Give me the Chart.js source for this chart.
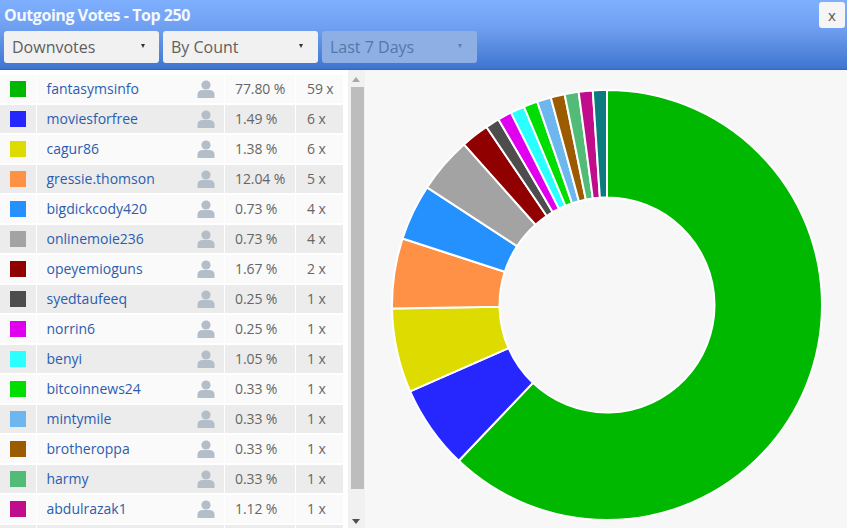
<!DOCTYPE html>
<html>
<head>
<meta charset="utf-8">
<title>Outgoing Votes</title>
<script src="https://cdn.jsdelivr.net/npm/chart.js@4"></script>
<style>
  html, body { margin: 0; padding: 0; }
  body { width: 847px; height: 528px; overflow: hidden; position: relative; background: #f7f7f7;
         font-family: "Open Sans", sans-serif; color: #666; }
  #head { position: absolute; left: 0; top: 0; width: 847px; height: 70px;
          background: linear-gradient(#7fafff 0%, #6f9ff0 40%, #3f76d0 97%, #2f66c0 100%); }
  #title { position: absolute; left: 4px; top: 5px; font-size: 16px; font-weight: 700; color: #f4f8ff; line-height: 20px; letter-spacing: -0.45px; }
  .sel { position: absolute; top: 31px; height: 32px; border-radius: 3px; background: #f1f1f1; color: #5f5f5f;
         font-size: 16px; line-height: 32px; box-sizing: border-box; padding-left: 8px; }
  .sel i { position: absolute; top: 13px; width: 0; height: 0; border-left: 2.5px solid transparent;
           border-right: 2.5px solid transparent; border-top: 4px solid #333; }
  .sel.off { background: #8dafe3; color: #5577aa; }
  .sel.off i { border-top-color: #5d7fb4; }
  #close { position: absolute; left: 819px; top: 2px; width: 26px; height: 26px; background: #f5f5f5; border-radius: 3px;
           text-align: center; font-size: 15px; line-height: 26px; color: #555; }
  #rows { position: absolute; left: 0; top: 70px; width: 348px; height: 458px; background: #fff; overflow: hidden; }
  .row { position: absolute; left: 0; width: 343px; height: 28px; font-size: 14px; line-height: 28px; letter-spacing: -0.1px; }
  .cell { position: absolute; top: 0; height: 28px; background: #fafafa; white-space: nowrap; box-sizing: border-box; }
  .row.alt .cell { background: #ececec; }
  .swatch { position: absolute; left: 10px; top: 6px; width: 16px; height: 16px; }
  .name { color: #2a5db0; padding-left: 9.5px; letter-spacing: 0; }
  .pct { padding-left: 10px; text-align: left; }
  .cnt { padding-left: 11px; }
  .who { position: absolute; left: 197px; top: 5px; width: 18px; height: 18px; }
  #track { position: absolute; left: 348px; top: 70px; width: 17px; height: 458px; background: #f1f1f1; }
  #thumb { position: absolute; left: 3px; top: 17px; width: 13px; height: 402px; background: #bdbdbd; }
  .arrow { position: absolute; left: 4px; width: 0; height: 0; border-left: 4px solid transparent; border-right: 4px solid transparent; }
  #chartBox { position: absolute; left: 391px; top: 89px; width: 432px; height: 432px; }
</style>
</head>
<body>
<div id="head">
  <div id="title">Outgoing Votes - Top 250</div>
  <div class="sel" style="left:4px;width:155px">Downvotes<i style="left:137px"></i></div>
  <div class="sel" style="left:163px;width:155px">By Count<i style="left:136px"></i></div>
  <div class="sel off" style="left:322px;width:155px">Last 7 Days<i style="left:136px"></i></div>
  <div id="close">x</div>
</div>
<div id="rows"></div>
<div id="track">
  <div class="arrow" style="top:7px;border-bottom:5px solid #a8a8a8"></div>
  <div id="thumb"></div>
  <div class="arrow" style="top:449px;border-top:5px solid #505050"></div>
</div>
<div id="chartBox"><canvas id="pie" width="432" height="432"></canvas></div>

<script>
const voters = ["fantasymsinfo", "moviesforfree", "cagur86", "gressie.thomson", "bigdickcody420",
  "onlinemoie236", "opeyemioguns", "syedtaufeeq", "norrin6", "benyi", "bitcoinnews24",
  "mintymile", "brotheroppa", "harmy", "abdulrazak1", ""];
const percents = ["77.80 %", "1.49 %", "1.38 %", "12.04 %", "0.73 %", "0.73 %", "1.67 %", "0.25 %",
  "0.25 %", "1.05 %", "0.33 %", "0.33 %", "0.33 %", "0.33 %", "1.12 %", ""];
const counts = [59, 6, 6, 5, 4, 4, 2, 1, 1, 1, 1, 1, 1, 1, 1, 1];
const colors = ["#00b800", "#2626ff", "#dedb00", "#ff9147", "#2491ff", "#a3a3a3", "#910000", "#4d4d4d",
  "#e000ef", "#2bffff", "#00dd00", "#6db6ee", "#9c5b00", "#52bb77", "#bf0d8c", "#0b7b80"];

// Build the table of voters, one absolutely placed row per entry.
const rows = document.getElementById("rows");
const personIcon = '<svg class="who" viewBox="0 0 18 18"><circle cx="9" cy="5" r="4.6" fill="#b4bec8"/>' +
  '<path d="M0.5 18 V14.5 Q0.5 10.5 5 10 H13 Q17.5 10.5 17.5 14.5 V18 Z" fill="#b4bec8"/></svg>';
voters.forEach(function (name, i) {
  const row = document.createElement("div");
  row.className = "row" + (i % 2 ? " alt" : "");
  row.style.top = (5 + i * 30) + "px";
  const label = counts[i] + " x";
  row.innerHTML = i === 15 ? '<div class="cell" style="left:0;width:36px"></div><div class="cell" style="left:37px;width:187px"></div><div class="cell" style="left:225px;width:70px"></div><div class="cell" style="left:296px;width:47px"></div>' :
    '<div class="cell" style="left:0;width:36px"><div class="swatch" style="background:' + colors[i] + '"></div></div>' +
    '<div class="cell name" style="left:37px;width:187px">' + name + personIcon.replace('class="who"', 'class="who" style="left:160px"') + '</div>' +
    '<div class="cell pct" style="left:225px;width:70px">' + percents[i] + '</div>' +
    '<div class="cell cnt" style="left:296px;width:47px">' + label + '</div>';
  rows.appendChild(row);
});

// Doughnut of vote counts, starting at twelve o'clock and running clockwise.
new Chart(document.getElementById("pie"), {
  type: "doughnut",
  data: {
    labels: voters,
    datasets: [{ data: counts, backgroundColor: colors, borderColor: "#ffffff", borderWidth: 2, hoverOffset: 0 }]
  },
  options: {
    responsive: false,
    animation: false,
    cutout: "50%",
    layout: { padding: 0 },
    plugins: { legend: { display: false }, tooltip: { enabled: false } }
  }
});
</script>
</body>
</html>
